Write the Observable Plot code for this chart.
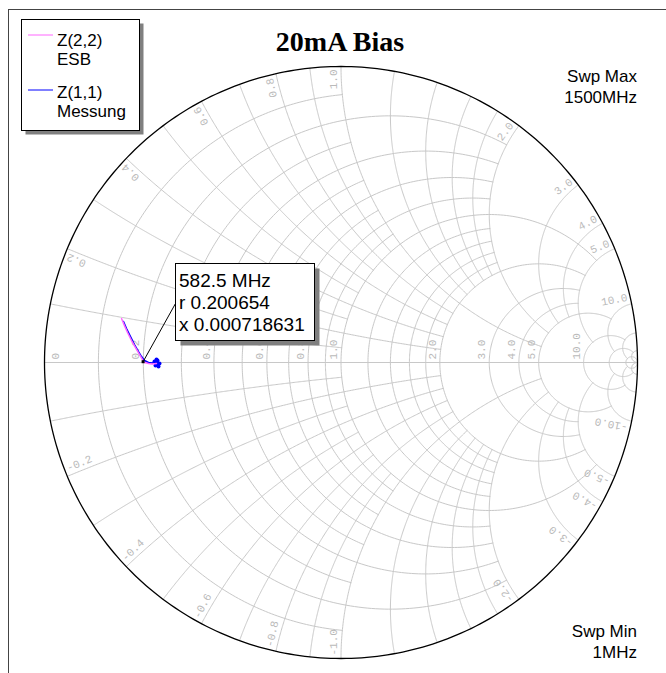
<!DOCTYPE html>
<html>
<head>
<meta charset="utf-8">
<script src="https://cdn.jsdelivr.net/npm/d3@7"></script>
<script src="https://cdn.jsdelivr.net/npm/@observablehq/plot@0.6"></script>
<style>
  html, body { margin: 0; padding: 0; background: #fff; }
  #chart { position: relative; width: 666px; height: 673px; overflow: hidden; }
  #chart > svg { position: absolute; left: 0; top: 0; }
</style>
</head>
<body>
<div id="chart"></div>
<script>
// ---- chart text ----
const chartTitle = "20mA Bias";
const sweepMaxText = ["Swp Max", "1500MHz"];
const sweepMinText = ["Swp Min", "1MHz"];
const legendLabels = [["Z(2,2)", "ESB"], ["Z(1,1)", "Messung"]];
const traceColors = ["#ff66ff", "#0000ff"];

// ---- traces: normalized impedance z = r + jx, from 1 MHz up to 1500 MHz ----
const esbR = [0.2328, 0.2227, 0.2127, 0.2007, 0.1979, 0.1905, 0.1802, 0.1697, 0.1588, 0.1499, 0.1410];
const esbX = [-0.0026, -0.0038, -0.0025, 0.0007, 0.0072, 0.0191, 0.0353, 0.0509, 0.0682, 0.0829, 0.0973];
const messR = [0.2354, 0.2303, 0.2406, 0.2278, 0.2379, 0.2328, 0.2227, 0.2127, 0.2029, 0.1954, 0.1878, 0.1774, 0.1666, 0.1554, 0.1464];
const messX = [0.0051, -0.0076, -0.0026, 0.0026, -0.0103, 0.0077, -0.0013, 0.0000, 0.0048, 0.0144, 0.0262, 0.0421, 0.0598, 0.0769, 0.0915];
const messLowBand = 6; // first sweep points, drawn as dots as well

// ---- marker ----
const markerLabel = "582.5 MHz";
const markerR = 0.200654;
const markerX = 0.000718631;

// ---- Smith grid ----
const axisTicks = [0, 0.2, 0.4, 0.6, 0.8, 1, 2, 3, 4, 5, 10];
const rimTicks = [0.2, 0.4, 0.6, 0.8, 1, 2, 3, 4, 5, 10];
// [value, extent]: a resistance circle runs up to |x| = extent,
// a reactance arc runs up to r = extent
const resistanceCircles = [
  [0.1, 1], [0.2, 2], [0.3, 1], [0.4, 2], [0.5, 1], [0.6, 2], [0.7, 1], [0.8, 2], [0.9, 1],
  [1, 5], [1.2, 2], [1.4, 2], [1.6, 2], [1.8, 2], [2, 5], [3, 5], [4, 5], [5, 10],
  [10, 20], [20, 50], [50, Infinity]
];
const reactanceArcs = [
  [0.1, 1], [0.2, 2], [0.3, 1], [0.4, 2], [0.5, 1], [0.6, 2], [0.7, 1], [0.8, 2], [0.9, 1],
  [1, 5], [1.2, 2], [1.4, 2], [1.6, 2], [1.8, 2], [2, 5], [3, 5], [4, 5], [5, 10],
  [10, 20], [20, 50], [50, Infinity]
];

// reflection coefficient of a normalized impedance
function gamma(r, x) {
  const d = (r + 1) ** 2 + x * x;
  return {gr: (r * r + x * x - 1) / d, gi: (2 * x) / d};
}

const gridPts = [];
let gid = 0;
function addResistance(r, xmax) {
  const c = r / (r + 1), rad = 1 / (r + 1);
  let a0 = 0;
  if (isFinite(xmax)) {
    const g = gamma(r, xmax);
    a0 = Math.atan2(g.gi, g.gr - c);
  }
  const n = 240, id = gid++;
  for (let i = 0; i <= n; i++) {
    const a = a0 + (2 * Math.PI - 2 * a0) * i / n;
    gridPts.push({gx: c + rad * Math.cos(a), gy: rad * Math.sin(a), id});
  }
}
function addReactance(x, rmax) {
  const cy = 1 / x, rad = Math.abs(1 / x);
  const g0 = gamma(0, x);
  const g1 = isFinite(rmax) ? gamma(rmax, x) : {gr: 1, gi: 0};
  const a0 = Math.atan2(g0.gi - cy, g0.gr - 1);
  let d = Math.atan2(g1.gi - cy, g1.gr - 1) - a0;
  while (d > Math.PI) d -= 2 * Math.PI;
  while (d < -Math.PI) d += 2 * Math.PI;
  const n = 240, id = gid++;
  for (let i = 0; i <= n; i++) {
    const a = a0 + d * i / n;
    gridPts.push({gx: 1 + rad * Math.cos(a), gy: cy + rad * Math.sin(a), id});
  }
}
resistanceCircles.forEach(([r, e]) => addResistance(r, e));
reactanceArcs.forEach(([x, e]) => { addReactance(x, e); addReactance(-x, e); });

const rim = d3.range(0, 361).map(a => ({gx: Math.cos(a * Math.PI / 180), gy: Math.sin(a * Math.PI / 180)}));

// chart radius in pixels, used for small label offsets
const R = (637 - 44) / 2;
const fmt = v => v === 0 ? "0" : v.toFixed(1);

const axisLabels = axisTicks.map(r => ({
  gx: gamma(r, 0).gr + (r === 0 ? 11 : -7.5) / R,
  gy: 3 / R,
  text: fmt(r)
}));

function rimLabel(x) {
  const g = gamma(0, x);
  let rot = Math.atan2(-g.gi, g.gr) * 180 / Math.PI;
  if (x < 0) rot += 180;
  const t = rot * Math.PI / 180;
  const inset = 1 - 3 / R;
  return {
    gx: g.gr * inset + Math.sin(t) * 7.5 / R,
    gy: g.gi * inset + Math.cos(t) * 7.5 / R,
    rot,
    text: fmt(x)
  };
}
const rimLabelsPos = rimTicks.map(rimLabel);
const rimLabelsNeg = rimTicks.map(x => rimLabel(-x));

const toPts = (rs, xs) => rs.map((r, i) => { const g = gamma(r, xs[i]); return {gx: g.gr, gy: g.gi}; });
const esb = toPts(esbR, esbX);
const mess = toPts(messR, messX);

const labelStyle = {fontFamily: "'Liberation Mono', 'DejaVu Sans Mono', monospace", fontSize: 11, fill: "#bababa"};

function markerCallout(index, scales) {
  const g = gamma(markerR, markerX);
  const px = scales.x(g.gr), py = scales.y(g.gi);
  const bx = Math.round(px) + 32.5, by = Math.round(py) - 98.5, bw = 139, bh = 77;
  const grp = d3.create("svg:g");
  grp.append("line").attr("x1", px).attr("y1", py).attr("x2", bx).attr("y2", by + 40)
    .attr("stroke", "#000").attr("stroke-width", 1);
  grp.append("rect").attr("x", bx + 5).attr("y", by + 5).attr("width", bw).attr("height", bh).attr("fill", "#7f7f7f");
  grp.append("rect").attr("x", bx).attr("y", by).attr("width", bw).attr("height", bh)
    .attr("fill", "#fff").attr("stroke", "#000");
  const lines = [markerLabel, "r " + markerR, "x " + markerX];
  grp.selectAll("text.m").data(lines).join("text")
    .attr("x", bx + 3.5).attr("y", (d, i) => by + 23 + i * 22)
    .attr("text-anchor", "start")
    .attr("font-family", "'Liberation Sans', Arial, sans-serif").attr("font-size", 19).attr("fill", "#000")
    .text(d => d);
  grp.append("rect").attr("x", px - 1.5).attr("y", py - 1.5).attr("width", 3).attr("height", 3).attr("fill", "#000");
  return grp.node();
}

const plot = Plot.plot({
  width: 666,
  height: 673,
  margin: 0,
  x: {domain: [-1, 1], range: [44, 637], axis: null},
  y: {domain: [-1, 1], range: [658, 66], axis: null},
  marks: [
    Plot.line(gridPts, {x: "gx", y: "gy", z: "id", stroke: "#c8c8c8", strokeWidth: 1}),
    Plot.ruleY([0], {x1: -1, x2: 1, stroke: "#c8c8c8", strokeWidth: 1}),
    Plot.line(rim, {x: "gx", y: "gy", stroke: "#000", strokeWidth: 1.3}),
    Plot.text(axisLabels, {x: "gx", y: "gy", text: "text", rotate: -90, textAnchor: "start", ...labelStyle}),
    Plot.text(rimLabelsPos, {x: "gx", y: "gy", text: "text", rotate: "rot", textAnchor: "end", ...labelStyle}),
    Plot.text(rimLabelsNeg, {x: "gx", y: "gy", text: "text", rotate: "rot", textAnchor: "start", ...labelStyle}),
    Plot.line(mess, {x: "gx", y: "gy", stroke: traceColors[1], strokeWidth: 1.5}),
    Plot.dot(mess.slice(0, messLowBand), {x: "gx", y: "gy", r: 2, fill: traceColors[1], stroke: null}),
    Plot.line(esb, {x: "gx", y: "gy", stroke: traceColors[0], strokeWidth: 1.5}),
    markerCallout
  ]
});
document.getElementById("chart").appendChild(plot);

// ---- frame, title, sweep notes and legend ----
const over = d3.select("#chart").append("svg").attr("width", 666).attr("height", 673);
over.append("rect").attr("x", 8.5).attr("y", 9.5).attr("width", 700).attr("height", 700)
  .attr("fill", "none").attr("stroke", "#444");
over.append("text").attr("x", 340).attr("y", 51).attr("text-anchor", "middle")
  .attr("font-family", "'Liberation Serif', 'Times New Roman', serif").attr("font-weight", "bold")
  .attr("font-size", 28).text(chartTitle);
const sans = "'Liberation Sans', Arial, sans-serif";
[[sweepMaxText, 82], [sweepMinText, 637]].forEach(([t, y]) => {
  t.forEach((s, i) => over.append("text").attr("x", 637).attr("y", y + i * 21).attr("text-anchor", "end")
    .attr("font-family", sans).attr("font-size", 17).text(s));
});
over.append("rect").attr("x", 25.5).attr("y", 23.5).attr("width", 118).attr("height", 111).attr("fill", "#808080");
over.append("rect").attr("x", 21.5).attr("y", 19.5).attr("width", 118).attr("height", 111)
  .attr("fill", "#fff").attr("stroke", "#000");
// legend rows: swatch line height and the two text baselines of each entry
const legendRows = [[35, 46, 65], [90, 98, 116.5]];
legendLabels.forEach((lab, i) => {
  const [ly, b1, b2] = legendRows[i];
  over.append("line").attr("x1", 28).attr("x2", 53).attr("y1", ly).attr("y2", ly)
    .attr("stroke", traceColors[i]).attr("stroke-width", 1);
  [b1, b2].forEach((b, j) => over.append("text").attr("x", 57).attr("y", b)
    .attr("font-family", sans).attr("font-size", 17).text(lab[j]));
});
</script>
</body>
</html>
